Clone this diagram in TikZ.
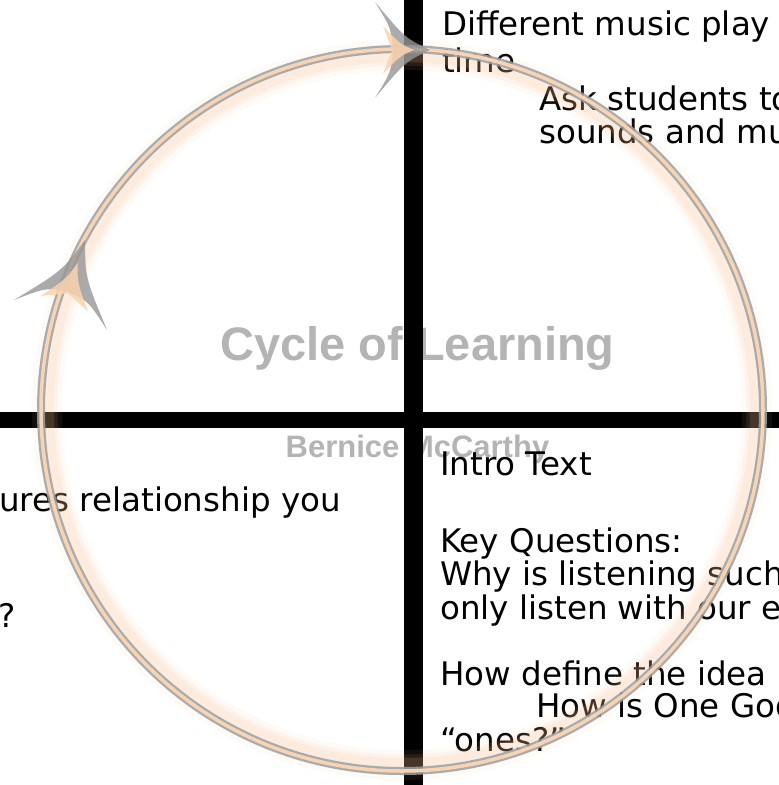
\documentclass[tikz,border=0pt]{standalone}
\usepackage{fontspec}
\newfontfamily\bodyfont{DejaVu Sans}
\newfontfamily\labelfont{Liberation Sans}
\definecolor{labelgrey}{RGB}{180,180,180}
\definecolor{ringgrey}{RGB}{150,160,168}
\definecolor{ringpeach}{RGB}{250,212,176}
\definecolor{glowpeach}{RGB}{248,188,140}
\definecolor{arrowgrey}{RGB}{150,150,150}
\begin{document}
\begin{tikzpicture}[x=1pt, y=-1pt,
	qtext/.style = {anchor=base west,
	                inner sep=0pt,
	                font=\bodyfont\fontsize{32.5}{34}\selectfont},
	biglabel/.style = {anchor=base,
	                   inner sep=0pt,
	                   text=labelgrey,
	                   font=\labelfont\bfseries\fontsize{47}{50}\selectfont},
	smalllabel/.style = {biglabel,
	                     font=\labelfont\bfseries\fontsize{31}{33}\selectfont},
	bar/.style = {draw=black},
	arrowhead/.style = {fill=arrowgrey, fill opacity=0.8},
	arrowcore/.style = {fill=ringpeach, fill opacity=0.85}]
		\useasboundingbox (0,0) rectangle (779,785);
		% grey titles
		\node[biglabel] (cycle) at (417.5,360) {Cycle of Learning};
		\node[smalllabel] (author) at (417.5,457) {Bernice McCarthy};
		% the cross
		\coordinate (vtop) at (413.5,0);
		\coordinate (vbot) at (413.5,785);
		\coordinate (hleft) at (0,420);
		\coordinate (hright) at (779,420);
		\path[bar, line width=19pt] (vtop) edge (vbot);
		\path[bar, line width=16pt] (hleft) edge (hright);
		% quadrant texts
		\node[qtext] (play) at (442,35.7) {Different music play};
		\node[qtext] (time) at (442,72.5) {time};
		\node[qtext] (ask) at (539,110) {Ask students to};
		\node[qtext] (sounds) at (539,143.3) {sounds and mu};
		\node[qtext, anchor=base east] (rel) at (341,511.7) {ures relationship you};
		\node[qtext, anchor=base east] (quest) at (16,627) {?};
		\node[qtext] (intro) at (440,475) {Intro Text};
		\node[qtext] (key) at (440,552) {Key Questions:};
		\node[qtext] (why) at (440,585.5) {Why is listening such};
		\node[qtext] (only) at (440,619) {only listen with our e};
		\node[qtext] (define) at (440,685) {How define the idea};
		\node[qtext] (god) at (536,717.5) {How is One God};
		\node[qtext] (ones) at (440,751) {“ones?”};
		% the cycle
		\coordinate (hub) at (402,410);
		\foreach \w/\o in {30/0.08, 21/0.1, 14/0.14}
			\draw[glowpeach, line width=\w pt, opacity=\o] (hub) circle[radius=355pt];
		\draw[ringgrey, line width=8pt, opacity=0.85] (hub) circle[radius=361pt];
		\draw[ringpeach, line width=3.5pt] (hub) circle[radius=361pt];
		% arrow at the top
		\begin{scope}[shift={(430,50)}]
			\path[arrowhead] (0,0) .. controls (-25,12) .. (-55,48)
				.. controls (-39,22) .. (-37,0)
				.. controls (-39,-22) .. (-55,-48)
				.. controls (-25,-12) .. (0,0) -- cycle;
			\path[arrowcore] (-16,0) .. controls (-30,6) .. (-47,24)
				-- (-38,0) -- (-47,-24)
				.. controls (-30,-6) .. (-16,0) -- cycle;
		\end{scope}
		% arrow on the left
		\begin{scope}[shift={(85,240)}, rotate=72]
			\path[arrowhead] (0,0) .. controls (-36,12) .. (-79,49)
				.. controls (-57,22) .. (-55,0)
				.. controls (-57,-22) .. (-79,-49)
				.. controls (-36,-12) .. (0,0) -- cycle;
			\path[arrowcore] (-24,0) .. controls (-43,6) .. (-67,25)
				-- (-56,0) -- (-67,-25)
				.. controls (-43,-6) .. (-24,0) -- cycle;
		\end{scope}
	\end{tikzpicture}
\end{document}
